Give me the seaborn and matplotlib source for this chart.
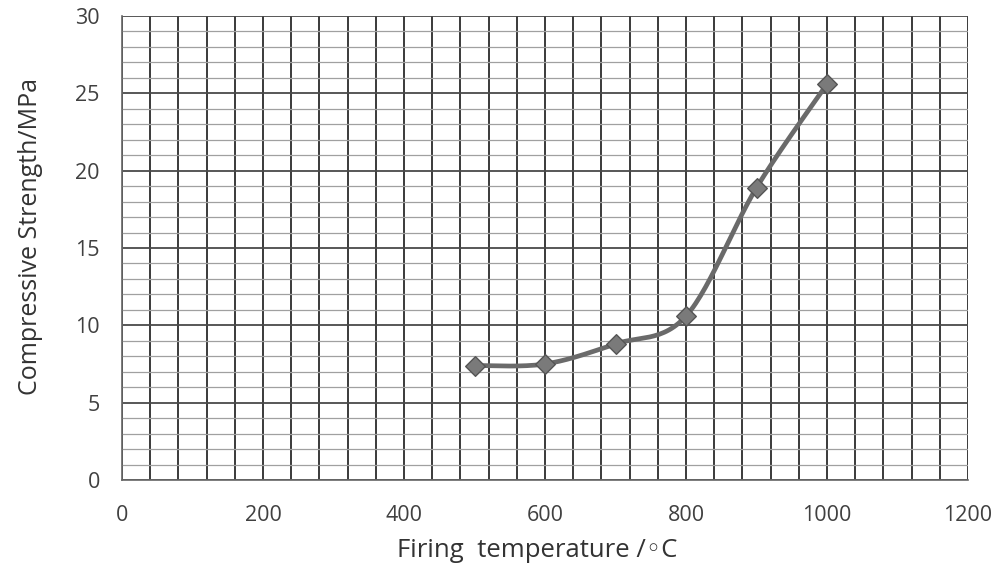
import numpy as np
import pandas as pd
import matplotlib
matplotlib.use("Agg")
import matplotlib.pyplot as plt
import seaborn as sns

temperature = [500, 600, 700, 800, 900, 1000]
strength = [7.4, 7.5, 8.8, 10.6, 18.9, 25.6]
x_ticks = [0, 200, 400, 600, 800, 1000, 1200]
y_ticks = [0, 5, 10, 15, 20, 25, 30]

sns.set_theme(style="white")
plt.rcParams['font.family'] = ['Open Sans', 'DejaVu Sans']

df = pd.DataFrame({"temperature": temperature, "strength": strength})

fig = plt.figure(figsize=(9.95, 5.71), dpi=100)
ax = fig.add_axes([0.1226, 0.1594, 0.8503, 0.8126])

# grid
for v in np.arange(0, 1201, 40):
    ax.axvline(v, color="#3a3a3a", lw=1.4, zorder=1)
for h in np.arange(0, 31, 1):
    if h % 5 == 0:
        ax.axhline(h, color="#4a4a4a", lw=1.3, zorder=1)
    else:
        ax.axhline(h, color="#a0a0a0", lw=0.9, zorder=1)

# smooth curve (Catmull-Rom through data points, like a smoothed Excel line)
px = np.array(temperature, float)
py = np.array(strength, float)
P = np.column_stack([px, py])
P = np.vstack([P[0], P, P[-1]])
curve = []
for i in range(1, len(P) - 2):
    p0, p1, p2, p3 = P[i - 1], P[i], P[i + 1], P[i + 2]
    t = np.linspace(0, 1, 30)[:, None]
    seg = 0.5 * ((2 * p1) + (-p0 + p2) * t + (2 * p0 - 5 * p1 + 4 * p2 - p3) * t**2
                 + (-p0 + 3 * p1 - 3 * p2 + p3) * t**3)
    curve.append(seg)
curve = np.vstack(curve)
ax.plot(curve[:, 0], curve[:, 1], color="#6a6a6a", lw=3.4, zorder=3, solid_capstyle="round")

sns.scatterplot(data=df, x="temperature", y="strength", ax=ax, marker="D", s=100,
                color="#7a7a7a", edgecolor="#555555", linewidth=1.0, zorder=4, legend=False)

ax.set_xlim(0, 1200)
ax.set_ylim(0, 30)
ax.set_xticks(x_ticks)
ax.set_yticks(y_ticks)
ax.tick_params(axis="both", labelsize=15.5, colors="#555555", length=6, width=1.0, direction="out")
ax.tick_params(axis="both", labelcolor="#404040")
ax.tick_params(axis="x", pad=12)
ax.tick_params(axis="y", pad=10)
for s in ["top", "right"]:
    ax.spines[s].set_visible(False)
for s in ["left", "bottom"]:
    ax.spines[s].set_color("#666666")
    ax.spines[s].set_linewidth(1.2)

ax.set_xlabel("Firing  temperature /◦C", fontsize=18.5, color="#333333")
ax.set_ylabel("Compressive Strength/MPa", fontsize=18, color="#333333")
ax.xaxis.set_label_coords(0.491, -0.125)
ax.yaxis.set_label_coords(-0.093, 0.524)

fig.savefig("out.png", dpi=100, facecolor="white")
